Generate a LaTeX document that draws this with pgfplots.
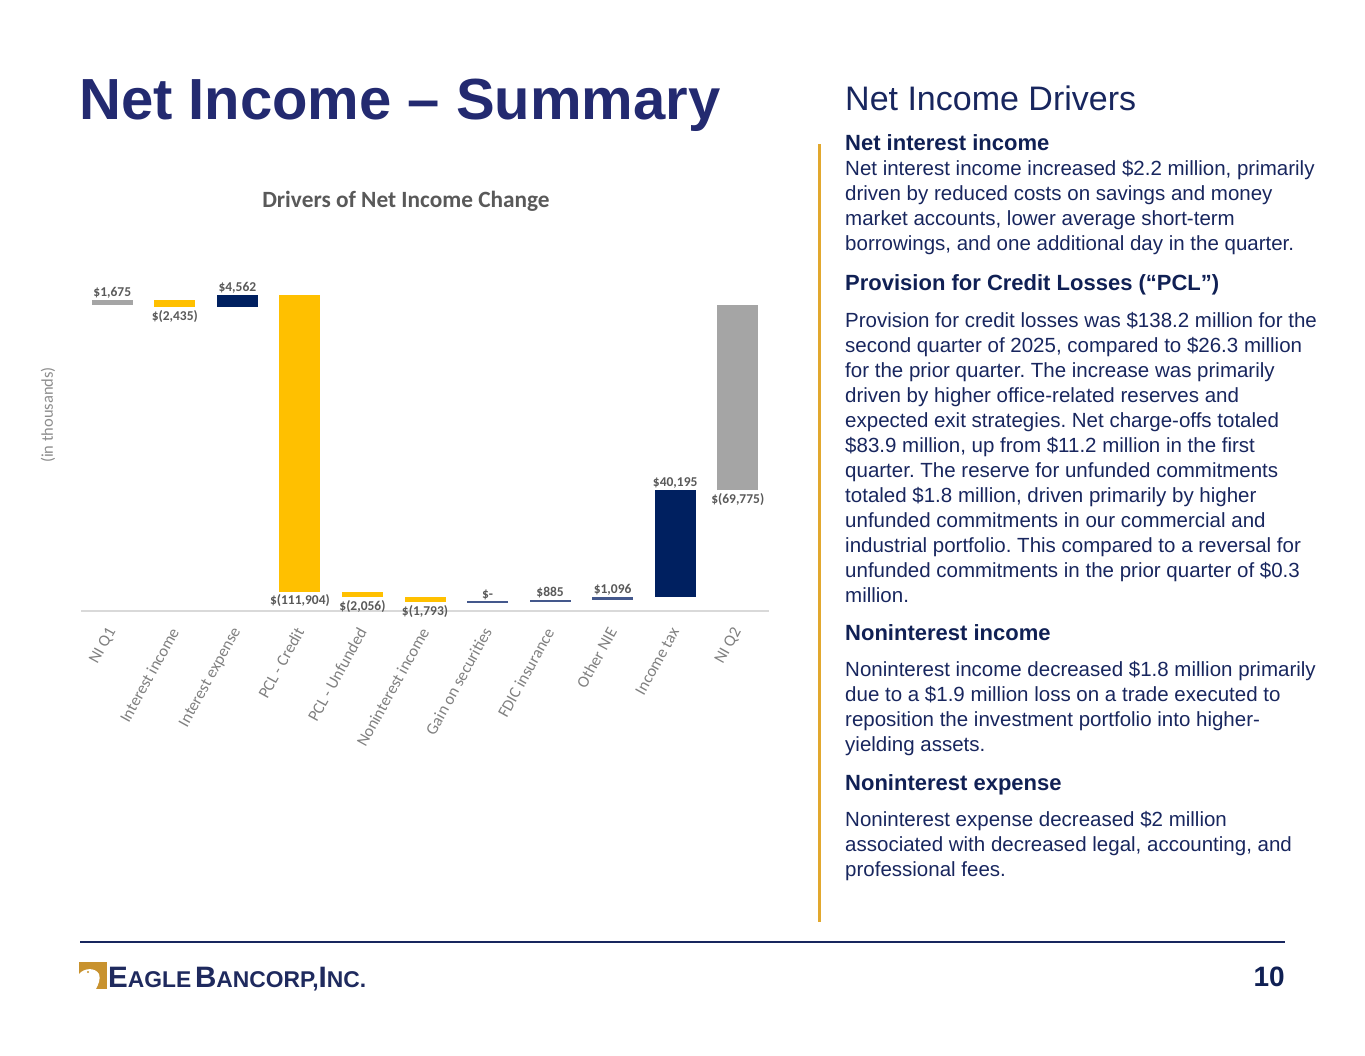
\documentclass[border=0pt]{standalone}
\usepackage{graphicx}
\usepackage{pgfplots}
\pgfplotsset{compat=1.18}
\usepackage{fontspec}
\setmainfont{Liberation Sans}
\newfontfamily\carlito{Carlito}
\frenchspacing
\definecolor{titlenavy}{RGB}{35,42,112}
\definecolor{headnavy}{RGB}{16,32,84}
\definecolor{bodynavy}{RGB}{24,38,94}
\definecolor{goldline}{RGB}{226,168,46}
\definecolor{cyellow}{RGB}{255,192,0}
\definecolor{cnavy}{RGB}{0,32,96}
\definecolor{cgray}{RGB}{165,165,165}
\definecolor{cline}{RGB}{68,88,140}
\definecolor{lblgray}{RGB}{89,89,89}
\definecolor{tickgray}{RGB}{128,128,128}
\definecolor{ylblgray}{RGB}{140,140,140}
\definecolor{logogold}{RGB}{200,146,46}
\definecolor{logonavy}{RGB}{31,42,94}
\newcommand\bl[2]{\node[anchor=base west,inner sep=0pt,text=bodynavy,font=\fontsize{20.5}{20.5}\selectfont] at (845pt,-#1pt) {#2};}
\newcommand\hl[2]{\node[anchor=base west,inner sep=0pt,text=headnavy,font=\bfseries\fontsize{22}{22}\selectfont] at (845pt,-#1pt) {#2};}
\begin{document}
\begin{tikzpicture}
\path[use as bounding box] (0pt,0pt) rectangle (1365pt,-1055pt);
% slide title
\node[anchor=base west, inner sep=0pt, text=titlenavy, font=\bfseries\fontsize{58}{58}\selectfont] at (79pt,-119pt) {Net Income – Summary};
\node[anchor=base west, inner sep=0pt, text=bodynavy, font=\fontsize{34}{34}\selectfont] at (845pt,-110pt) {Net Income Drivers};
% gold vertical rule
\draw[goldline, line width=3pt] (819pt,-144pt) -- (819pt,-922pt);
% right text
\hl{150}{Net interest income}
\bl{175}{Net interest income increased \$2.2 million, primarily}
\bl{200}{driven by reduced costs on savings and money}
\bl{225}{market accounts, lower average short-term}
\bl{250}{borrowings, and one additional day in the quarter.}
\hl{290}{Provision for Credit Losses (“PCL”)}
\bl{327}{Provision for credit losses was \$138.2 million for the}
\bl{352}{second quarter of 2025, compared to \$26.3 million}
\bl{377}{for the prior quarter. The increase was primarily}
\bl{402}{driven by higher office-related reserves and}
\bl{427}{expected exit strategies. Net charge-offs totaled}
\bl{452}{\$83.9 million, up from \$11.2 million in the first}
\bl{477}{quarter. The reserve for unfunded commitments}
\bl{502}{totaled \$1.8 million, driven primarily by higher}
\bl{527}{unfunded commitments in our commercial and}
\bl{552}{industrial portfolio. This compared to a reversal for}
\bl{577}{unfunded commitments in the prior quarter of \$0.3}
\bl{602}{million.}
\hl{640}{Noninterest income}
\bl{676}{Noninterest income decreased \$1.8 million primarily}
\bl{701}{due to a \$1.9 million loss on a trade executed to}
\bl{726}{reposition the investment portfolio into higher-}
\bl{751}{yielding assets.}
\hl{790}{Noninterest expense}
\bl{826}{Noninterest expense decreased \$2 million}
\bl{851}{associated with decreased legal, accounting, and}
\bl{876}{professional fees.}
% footer
\draw[bodynavy, line width=1.2pt] (80pt,-942pt) -- (1285pt,-942pt);
\node[anchor=base east, inner sep=0pt, text=headnavy, font=\bfseries\fontsize{28}{28}\selectfont] at (1285pt,-986pt) {10};
\fill[logogold] (79pt,-962pt) rectangle (107pt,-989pt);
\fill[white] (79pt,-974pt) .. controls (84pt,-968pt) and (95pt,-967pt) .. (99pt,-974pt) .. controls (101pt,-979pt) and (98pt,-985pt) .. (96pt,-989pt) -- (79pt,-989pt) -- cycle;
\fill[logogold] (88pt,-972pt) circle (1.2pt);
\node[anchor=base west, inner sep=0pt, text=logonavy] at (108pt,-987pt) {\resizebox{258pt}{!}{\bfseries\fontsize{22}{22}\selectfont E\fontsize{17}{17}\selectfont AGLE\,\fontsize{22}{22}\selectfont B\fontsize{17}{17}\selectfont ANCORP,\fontsize{22}{22}\selectfont I\fontsize{17}{17}\selectfont NC.}};
% chart title and y label
\node[anchor=base, inner sep=0pt, text=lblgray, font=\carlito\bfseries\fontsize{23.3}{23.3}\selectfont] at (406pt,-207pt) {Drivers of Net Income Change};
\node[rotate=90, inner sep=0pt, text=ylblgray, font=\carlito\fontsize{16.5}{16.5}\selectfont] at (48pt,-415pt) {(in thousands)};
\begin{axis}[
  at={(81pt,-611pt)}, anchor=south west,
  scale only axis, width=688pt, height=331pt,
  xmin=-0.5, xmax=10.5, ymin=-115400, ymax=9350,
  clip=false,
  axis x line*=bottom, axis y line*=left,
  y axis line style={draw=none},
  x axis line style={draw=black!15, line width=1.5pt},
  ytick=\empty,
  xtick={0,...,10},
  xticklabels={NI Q1,Interest income,Interest expense,PCL - Credit,PCL - Unfunded,Noninterest income,Gain on securities,FDIC insurance,Other NIE,Income tax,NI Q2},
  major tick length=0pt,
  xticklabel shift=18pt,
  xticklabel style={font=\carlito\fontsize{16.5}{16.5}\selectfont, text=tickgray, rotate=61, anchor=east, inner sep=0pt},
  every axis plot/.append style={line width=41pt},
]
\addplot[cgray] coordinates {(0,0) (0,1675)};
\addplot[cyellow] coordinates {(1,-760) (1,1675)};
\addplot[cnavy] coordinates {(2,-760) (2,3802)};
\addplot[cyellow] coordinates {(3,-108102) (3,3802)};
\addplot[cyellow] coordinates {(4,-110158) (4,-108102)};
\addplot[cyellow] coordinates {(5,-111951) (5,-110158)};
\addplot[only marks, mark=-, mark size=20.5pt, mark options={draw=cline, line width=1.5pt}] coordinates {(6,-111951)};
\addplot[cline] coordinates {(7,-111951) (7,-111066)};
\addplot[cline] coordinates {(8,-111066) (8,-109970)};
\addplot[cnavy] coordinates {(9,-109970) (9,-69775)};
\addplot[cgray] coordinates {(10,-69775) (10,0)};
\addplot[only marks, mark=none, line width=0.4pt, nodes near coords, point meta=explicit symbolic,
  nodes near coords style={anchor=south, inner sep=1.5pt, font=\carlito\bfseries\fontsize{13.5}{13.5}\selectfont, text=lblgray}]
  coordinates {(0,1675)[\$1,675] (2,3802)[\$4,562] (6,-111951)[\$-] (7,-111066)[\$885] (8,-109970)[\$1,096] (9,-69775)[\$40,195]};
\addplot[only marks, mark=none, line width=0.4pt, nodes near coords, point meta=explicit symbolic,
  nodes near coords style={anchor=north, inner sep=1.5pt, yshift=-1.5pt, font=\carlito\bfseries\fontsize{13.5}{13.5}\selectfont, text=lblgray}]
  coordinates {(1,-760)[\$(2,435)] (3,-108102)[\$(111,904)] (4,-110158)[\$(2,056)] (5,-111951)[\$(1,793)] (10,-69775)[\$(69,775)]};
\end{axis}
\end{tikzpicture}
\end{document}
